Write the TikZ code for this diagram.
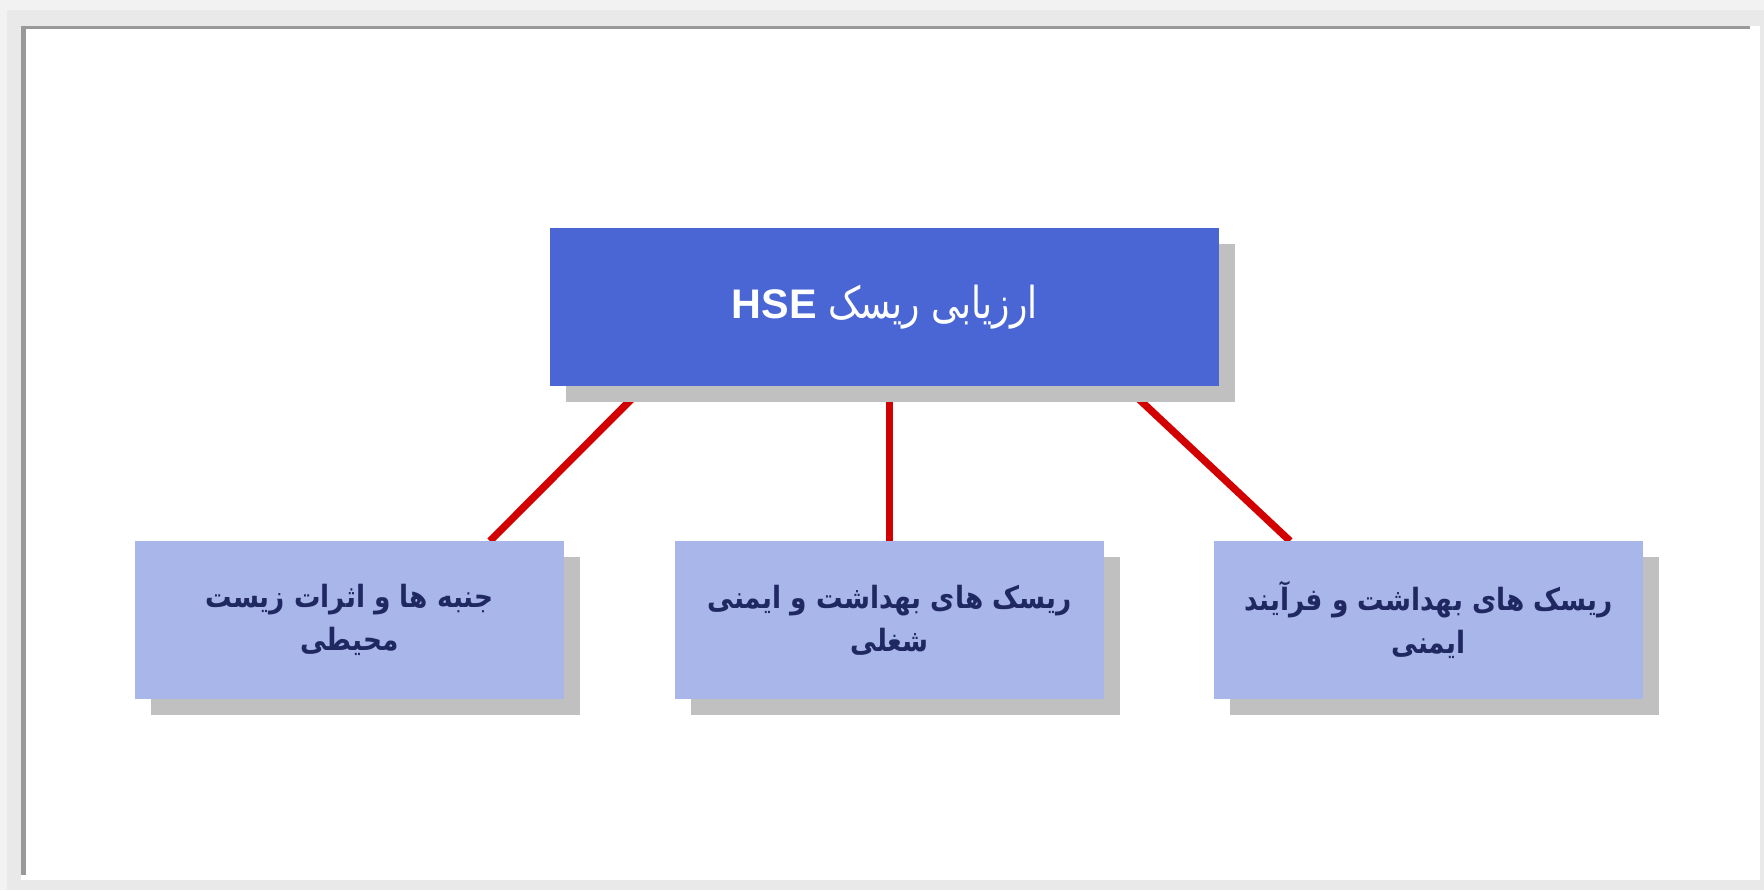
\documentclass[tikz,border=0pt]{standalone}
\usepackage{fontspec}
\setmainfont{Liberation Sans}
\newfontfamily\arbtop[Script=Arabic,FakeStretch=0.82]{DejaVu Sans}
\newfontfamily\arbsub[Script=Arabic,FakeStretch=0.86]{DejaVu Sans}
\newfontfamily\hsefont{Liberation Sans}
\TeXXeTstate=1
\usetikzlibrary{shadows,backgrounds,calc}
\definecolor{framelight}{HTML}{F2F2F2}
\definecolor{framegray}{HTML}{E9E9E9}
\definecolor{darkline}{HTML}{999999}
\definecolor{topblue}{HTML}{4A66D5}
\definecolor{lightblue}{HTML}{A9B6EA}
\definecolor{shadowgray}{HTML}{C0C0C0}
\definecolor{linkred}{HTML}{D20000}
\definecolor{navytext}{HTML}{1F2860}
\tikzset{
  shadowed/.style={drop shadow={shadow xshift=12pt, shadow yshift=-12pt, fill=shadowgray, opacity=1}},
  topbox/.style={rectangle, fill=topblue, draw=none, inner sep=0pt, outer sep=0pt,
    minimum width=502.1pt, minimum height=118.5pt, shadowed, text=white,
    font=\fontsize{33}{38}\selectfont},
  subbox/.style={rectangle, fill=lightblue, draw=none, inner sep=0pt, outer sep=0pt,
    minimum width=321.75pt, minimum height=118.5pt, shadowed, text=navytext, align=center,
    font=\arbsub\bfseries\fontsize{23}{32}\selectfont},
  link/.style={draw=linkred, line width=5.5pt}
}
\begin{document}
\begin{tikzpicture}[x=0.75pt,y=-0.75pt]
\begin{scope}[on background layer]
  \fill[framelight] (0,0) rectangle (1764,890);
  \fill[framegray] (7,10) rectangle (1764,890);
  \fill[white] (21,26) rectangle (1760,880);
  \fill[darkline] (21,26) rectangle (1750,29);
  \fill[darkline] (21,26) rectangle (26,875);
\end{scope}
\useasboundingbox (0,0) rectangle (1764,890);

\node[topbox] (top) at (884.75,307) {\arbtop\beginR ارزیابی ریسک {\hsefont\fontsize{31}{36}\selectfont\bfseries\beginL HSE\endL}\endR};
\node[subbox] (left) at (349.5,620) {\beginR جنبه ها و اثرات زیست\endR\\\beginR محیطی\endR};
\node[subbox] (mid) at (889.5,620) {\beginR ریسک های بهداشت و ایمنی\endR\\\beginR شغلی\endR};
\node[subbox] (right) at (1428.5,620) {\beginR ریسک های بهداشت و فرآیند\endR\\\beginR ایمنی\endR};

\begin{scope}[on background layer]
  \draw[link] ($(top.south west)+(94.5,0)$) -- ($(left.north east)+(-74,0)$);
  \draw[link] (top.south -| mid.north) -- (mid.north);
  \draw[link] ($(top.south east)+(-94.5,0)$) -- ($(right.north west)+(76,0)$);
\end{scope}
\end{tikzpicture}
\end{document}
